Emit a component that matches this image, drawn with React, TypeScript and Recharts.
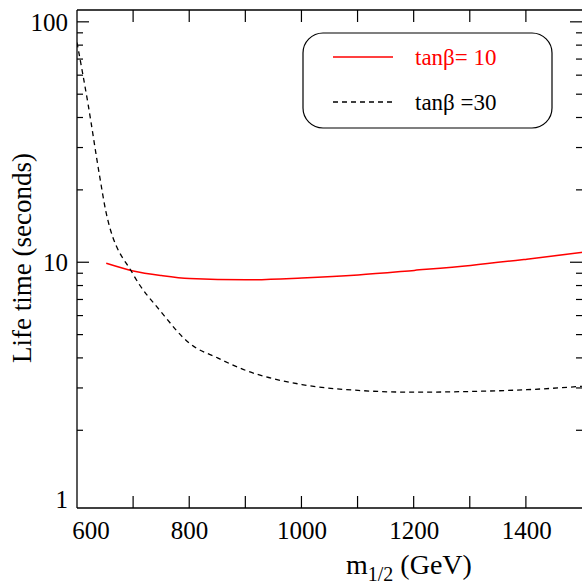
import { LineChart, Line, XAxis, YAxis } from "recharts";

const redX = [652, 700, 750, 800, 900, 1000, 1100, 1200, 1300, 1400, 1500];
const redY = [9.9, 9.2, 8.8, 8.55, 8.45, 8.6, 8.85, 9.25, 9.7, 10.3, 11.0];
const blackX = [600, 620, 640, 652, 700, 750, 800, 850, 900, 1000, 1100, 1200, 1300, 1400, 1500];
const blackY = [82, 45, 23, 16, 8.9, 6.2, 4.6, 4.0, 3.55, 3.1, 2.93, 2.88, 2.9, 2.95, 3.05];
const xTicks = [600, 700, 800, 900, 1000, 1100, 1200, 1300, 1400, 1500];
const xLabels = [600, 800, 1000, 1200, 1400];
const yTicks = [1, 2, 3, 4, 5, 6, 7, 8, 9, 10, 20, 30, 40, 50, 60, 70, 80, 90, 100];
const yLabels = [1, 10, 100];

const font = "'Liberation Serif', 'Times New Roman', serif";
const W = 584;
const H = 586;
const M = { top: 9, right: 0, bottom: 0, left: 76 };
const AXH = 78;
const X0 = 77;
const X1 = 582;
const Y0 = 10;
const Y1 = 508;
const XD = [600, 1500];
const YD = [0.95, 112];

const sx = (v: number) => X0 + ((v - XD[0]) / (XD[1] - XD[0])) * (X1 - X0);
const sy = (v: number) =>
  Y1 - ((Math.log(v) - Math.log(YD[0])) / (Math.log(YD[1]) - Math.log(YD[0]))) * (Y1 - Y0);

const data = [
  ...redX.map((x, i) => ({ x, red: redY[i] })),
  ...blackX.map((x, i) => ({ x, black: blackY[i] })),
].sort((a, b) => a.x - b.x);

const XTick = (p: any) => {
  const v = p.payload.value;
  if (!xLabels.includes(v)) return <g />;
  return (
    <text x={p.x + (v === 600 ? 14 : 0)} y={p.y + 31} textAnchor="middle" fontFamily={font} fontSize={25} fill="#000">
      {v}
    </text>
  );
};

const YTick = (p: any) => {
  const v = p.payload.value;
  if (!yLabels.includes(v)) return <g />;
  return (
    <text x={p.x - 9} y={p.y + 9 - (v === 1 ? 4 : 0)} textAnchor="end" fontFamily={font} fontSize={25} fill="#000">
      {v}
    </text>
  );
};

export default function App() {
  return (
    <div style={{ position: "absolute", left: 0, top: 0, width: 582, height: 586, background: "#fff" }}>
      <LineChart width={W} height={H} data={data} margin={M}>
        <XAxis xAxisId="b" dataKey="x" type="number" domain={XD} ticks={xTicks} height={AXH}
          allowDataOverflow tickSize={0} tickMargin={0} stroke="#000" strokeWidth={1.3} tick={XTick} interval={0} />
        <XAxis xAxisId="t" dataKey="x" type="number" orientation="top" domain={XD} height={1}
          tick={false} stroke="#000" strokeWidth={1.3} />
        <YAxis yAxisId="l" type="number" scale="log" domain={YD} ticks={yTicks} width={1}
          allowDataOverflow tickSize={0} tickMargin={0} stroke="#000" strokeWidth={1.3} tick={YTick} interval={0} />
        <YAxis yAxisId="r" orientation="right" type="number" scale="log" domain={YD} width={1}
          allowDataOverflow tick={false} stroke="#000" strokeWidth={1.3} />
        <Line xAxisId="b" yAxisId="l" dataKey="red" type="monotone" stroke="#ff0000" strokeWidth={1.5} dot={false} connectNulls isAnimationActive={false} />
        <Line xAxisId="b" yAxisId="l" dataKey="black" type="monotone" stroke="#000" strokeWidth={1.3} strokeDasharray="5 4" dot={false} connectNulls isAnimationActive={false} />
      </LineChart>
      <svg style={{ position: "absolute", left: 0, top: 0 }} width={582} height={586}>
        {xTicks.filter((v) => v > 600 && v < 1500).map((v) => (
          <g key={`x${v}`}>
            <line x1={sx(v)} x2={sx(v)} y1={Y1} y2={Y1 - 12} stroke="#000" strokeWidth={1.2} />
            <line x1={sx(v)} x2={sx(v)} y1={Y0} y2={Y0 + 12} stroke="#000" strokeWidth={1.2} />
          </g>
        ))}
        {yTicks.filter((v) => v > 1).map((v) => {
          const len = yLabels.includes(v) ? 12 : 6;
          return (
            <g key={`y${v}`}>
              <line x1={X0} x2={X0 + len} y1={sy(v)} y2={sy(v)} stroke="#000" strokeWidth={1.2} />
              <line x1={X1} x2={X1 - len} y1={sy(v)} y2={sy(v)} stroke="#000" strokeWidth={1.2} />
            </g>
          );
        })}
        <rect x={303} y={33} width={249} height={95} rx={20} fill="#fff" stroke="#000" strokeWidth={1.2} />
        <line x1={333} x2={393} y1={57} y2={57} stroke="#ff0000" strokeWidth={1.5} />
        <text x={415} y={65} fontFamily={font} fontSize={23} fill="#ff0000">tanβ= 10</text>
        <line x1={333} x2={393} y1={102} y2={102} stroke="#000" strokeWidth={1.3} strokeDasharray="5 4" />
        <text x={415} y={110} fontFamily={font} fontSize={23} fill="#000">tanβ =30</text>
        <text transform="translate(31,258) rotate(-90)" textAnchor="middle" fontFamily={font} fontSize={27} fill="#000">Life time (seconds)</text>
        <text x={346} y={574} fontFamily={font} fontSize={28} fill="#000">
          m<tspan dy={7} fontSize={20}>1/2</tspan><tspan dy={-7}> (GeV)</tspan>
        </text>
      </svg>
    </div>
  );
}
